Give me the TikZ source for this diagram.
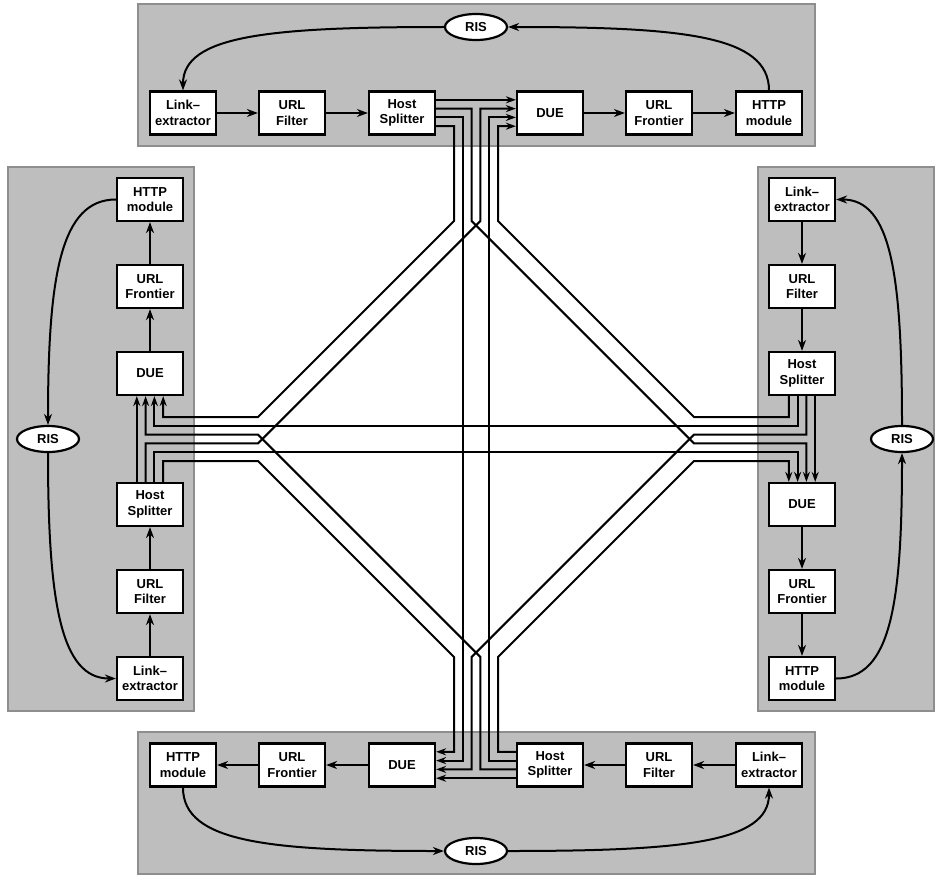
\documentclass[tikz,border=0pt]{standalone}
\usepackage{fontspec}
\setsansfont{Liberation Sans}
\usetikzlibrary{arrows.meta,calc,shapes.geometric}
\definecolor{panel}{HTML}{BEBEBE}
\definecolor{rim}{HTML}{8E8E8E}

\tikzset{
  unit/.style={draw,line width=2.2pt,fill=white,minimum width=66pt,
    minimum height=43pt,inner sep=0pt,align=center},
  ris/.style={draw,ellipse,line width=2.2pt,fill=white,minimum width=62pt,
    minimum height=26pt,inner sep=0pt},
  flow/.style={line width=2pt,-{Stealth[length=11pt,width=8pt]}},
  wire/.style={line width=2pt,-{Stealth[length=10pt,width=7pt]}},
  pane/.style={fill=panel,draw=rim,line width=2.4pt}
}

\begin{document}
\begin{tikzpicture}[x=1pt,y=-1pt,font=\sffamily\bfseries\fontsize{13}{15.5}\selectfont]
  \useasboundingbox (0,0) rectangle (936,875);
  \coordinate (c) at (476,439);

  % panels
  \path[pane] (138,4) rectangle (815,146);
  \path[pane] (138,732) rectangle (815,874);
  \path[pane] (8,167) rectangle (194,711);
  \path[pane] (758,167) rectangle (934,711);

  % top crawler
  \node[unit] (tLink)   at (183,113) {Link–\\extractor};
  \node[unit] (tFilter) at (292,113) {URL\\Filter};
  \node[unit] (tSplit)  at (402,113) {Host\\Splitter};
  \node[unit] (tDUE)    at (550,113) {DUE};
  \node[unit] (tFront)  at (659,113) {URL\\Frontier};
  \node[unit] (tHTTP)   at (769,113) {HTTP\\module};
  \node[ris]  (tRIS)    at (476,27)  {RIS};

  % right crawler
  \node[unit] (rLink)   at (802,199.5) {Link–\\extractor};
  \node[unit] (rFilter) at (802,286.5) {URL\\Filter};
  \node[unit] (rSplit)  at (802,373.5) {Host\\Splitter};
  \node[unit] (rDUE)    at (802,504.5) {DUE};
  \node[unit] (rFront)  at (802,591.5) {URL\\Frontier};
  \node[unit] (rHTTP)   at (802,678.5) {HTTP\\module};
  \node[ris]  (rRIS)    at (902,439)   {RIS};

  % bottom crawler
  \node[unit] (bLink)   at (769,765) {Link–\\extractor};
  \node[unit] (bFilter) at (659,765) {URL\\Filter};
  \node[unit] (bSplit)  at (550,765) {Host\\Splitter};
  \node[unit] (bDUE)    at (402,765) {DUE};
  \node[unit] (bFront)  at (292,765) {URL\\Frontier};
  \node[unit] (bHTTP)   at (183,765) {HTTP\\module};
  \node[ris]  (bRIS)    at (476,851) {RIS};

  % left crawler
  \node[unit] (lLink)   at (150,678.5) {Link–\\extractor};
  \node[unit] (lFilter) at (150,591.5) {URL\\Filter};
  \node[unit] (lSplit)  at (150,504.5) {Host\\Splitter};
  \node[unit] (lDUE)    at (150,373.5) {DUE};
  \node[unit] (lFront)  at (150,286.5) {URL\\Frontier};
  \node[unit] (lHTTP)   at (150,199.5) {HTTP\\module};
  \node[ris]  (lRIS)    at (48,439)    {RIS};

  % pipeline inside each crawler
  \foreach \p in {t,r,b,l}
    \foreach \a/\b in {Link/Filter,Filter/Split,DUE/Front,Front/HTTP}
      \draw[flow] (\p\a) -- (\p\b);

  % RIS loops
  \draw[flow] (tHTTP.north) .. controls +(0,-55) and +(175,0) .. (tRIS.east);
  \draw[flow] (tRIS.west) .. controls +(-175,0) and +(0,-55) .. (tLink.north);
  \draw[flow] (rHTTP.east) .. controls +(55,0) and +(0,150) .. (rRIS.south);
  \draw[flow] (rRIS.north) .. controls +(0,-150) and +(55,0) .. (rLink.east);
  \draw[flow] (bHTTP.south) .. controls +(0,55) and +(-175,0) .. (bRIS.west);
  \draw[flow] (bRIS.east) .. controls +(175,0) and +(0,55) .. (bLink.south);
  \draw[flow] (lHTTP.west) .. controls +(-55,0) and +(0,-150) .. (lRIS.north);
  \draw[flow] (lRIS.south) .. controls +(0,150) and +(-55,0) .. (lLink.west);

  % own splitter to own DUE
  \draw[wire] ($(tSplit.east)+(0,-13.2)$) -- ($(tDUE.west)+(0,-13.2)$);
  \draw[wire] ($(rSplit.south)+(13.2,0)$) -- ($(rDUE.north)+(13.2,0)$);
  \draw[wire] ($(bSplit.west)+(0,13.2)$) -- ($(bDUE.east)+(0,13.2)$);
  \draw[wire] ($(lSplit.north)+(-13.2,0)$) -- ($(lDUE.south)+(-13.2,0)$);

  % top splitter
  \draw[wire] ($(tSplit.east)+(0,-4.4)$) -| ($(c)+(-4.4,-218)$)
    -- ($(c)+(218,4.4)$) -| ($(rDUE.north)+(4.4,0)$);
  \draw[wire] ($(tSplit.east)+(0,4.4)$) -| ($(c)+(-13.2,0)$)
    |- ($(bDUE.east)+(0,-4.4)$);
  \draw[wire] ($(tSplit.east)+(0,13.2)$) -| ($(c)+(-22,-218)$)
    -- ($(c)+(-218,-22)$) -| ($(lDUE.south)+(13.2,0)$);

  % right splitter
  \draw[wire] ($(rSplit.south)+(-13.2,0)$) |- ($(c)+(218,-22)$)
    -- ($(c)+(22,-218)$) |- ($(tDUE.west)+(0,13.2)$);
  \draw[wire] ($(rSplit.south)+(-4.4,0)$) |- ($(c)+(0,-13.2)$)
    -| ($(lDUE.south)+(4.4,0)$);
  \draw[wire] ($(rSplit.south)+(4.4,0)$) |- ($(c)+(218,-4.4)$)
    -- ($(c)+(-4.4,218)$) |- ($(bDUE.east)+(0,4.4)$);

  % bottom splitter
  \draw[wire] ($(bSplit.west)+(0,-13.2)$) -| ($(c)+(22,218)$)
    -- ($(c)+(218,22)$) -| ($(rDUE.north)+(-13.2,0)$);
  \draw[wire] ($(bSplit.west)+(0,-4.4)$) -| ($(c)+(13.2,0)$)
    |- ($(tDUE.west)+(0,4.4)$);
  \draw[wire] ($(bSplit.west)+(0,4.4)$) -| ($(c)+(4.4,218)$)
    -- ($(c)+(-218,-4.4)$) -| ($(lDUE.south)+(-4.4,0)$);

  % left splitter
  \draw[wire] ($(lSplit.north)+(-4.4,0)$) |- ($(c)+(-218,4.4)$)
    -- ($(c)+(4.4,-218)$) |- ($(tDUE.west)+(0,-4.4)$);
  \draw[wire] ($(lSplit.north)+(4.4,0)$) |- ($(c)+(0,13.2)$)
    -| ($(rDUE.north)+(-4.4,0)$);
  \draw[wire] ($(lSplit.north)+(13.2,0)$) |- ($(c)+(-218,22)$)
    -- ($(c)+(-22,218)$) |- ($(bDUE.east)+(0,-13.2)$);
\end{tikzpicture}
\end{document}
